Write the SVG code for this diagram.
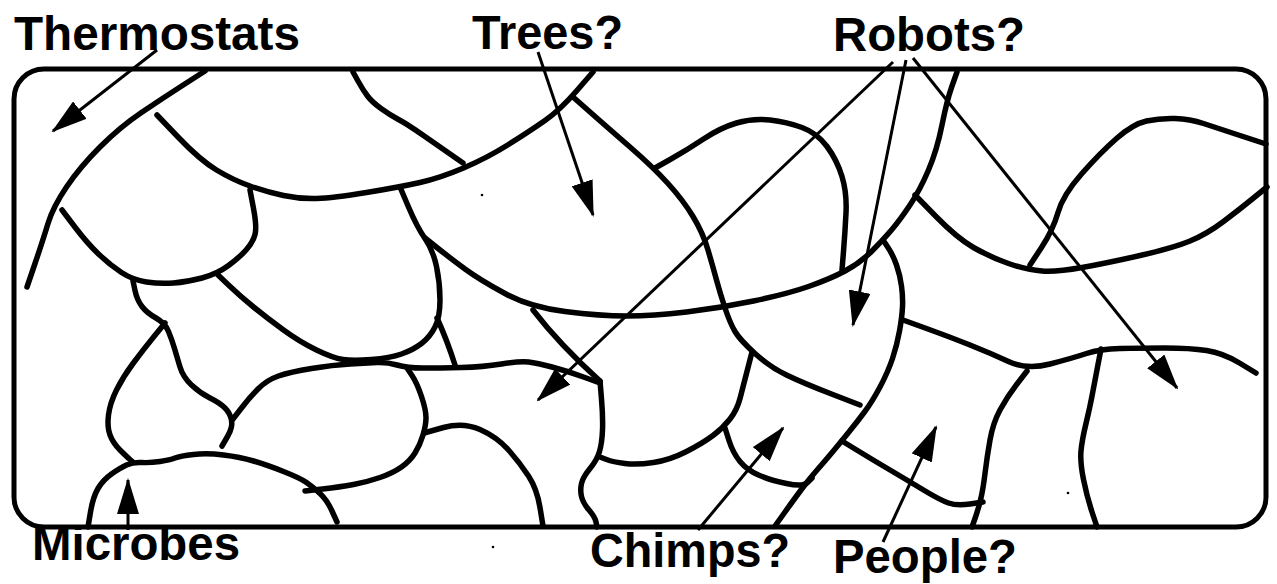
<svg xmlns="http://www.w3.org/2000/svg" width="1277" height="584" viewBox="0 0 1277 584">
<style>
.frame{fill:none;stroke:#000;stroke-width:5}
.reg path{fill:none;stroke:#000;stroke-width:5.5;stroke-linecap:round;stroke-linejoin:round}
.arr line{stroke:#000;stroke-width:3;marker-end:url(#ah)}
.lbl{font-family:"Liberation Sans",Arial,Helvetica,sans-serif;font-weight:bold;font-size:48px;fill:#000}
</style>
<defs>
<marker id="ah" markerUnits="userSpaceOnUse" viewBox="0 0 36 22" markerWidth="36" markerHeight="22" refX="34" refY="11" orient="auto">
<path d="M0,0 L36,11 L0,22 Z" fill="#000"/>
</marker>
</defs>
<rect width="1277" height="584" fill="#fff"/>
<rect id="frame" class="frame" x="14" y="69" width="1252" height="458" rx="30" ry="30"/>
<g id="regions" class="reg">
<path d="M205,71 L184,84.5 Q163,98 141.5,112.5 Q120,127 100,147 Q80,167 66.5,187 Q53,207 48,223.5 Q43,240 35,263.5 L27,287"/>
<path d="M157,115 L178.5,137.5 Q200,160 216.5,170 Q233,180 250,186 Q267,192 283.5,195.5 Q300,199 316.5,198.5 Q333,198 366.5,192.5 Q400,187 420,182.5 Q440,178 463.5,168 Q487,158 508.5,144.5 Q530,131 545,120.5 Q560,110 576.5,91 L593,72"/>
<path d="M353,72 L358,81 Q363,90 367.5,96 Q372,102 381,108.5 Q390,115 398.5,119.5 Q407,124 423.5,135.5 Q440,147 451.5,155 L463,163"/>
<path d="M250,190 L253.5,208.5 Q257,227 255,234.5 Q253,242 246.5,249.5 Q240,257 228.5,265.5 Q217,274 202,278 Q187,282 173.5,283 Q160,284 146.5,282 Q133,280 121.5,272.5 Q110,265 98.5,254 Q87,243 74.5,226.5 L62,210"/>
<path d="M400,187 L408.5,207 Q417,227 425,238.5 Q433,250 436.5,266.5 Q440,283 440,300 Q440,317 435,327 Q430,337 421.5,343.5 Q413,350 401.5,354 Q390,358 371.5,359.5 Q353,361 343,359.5 Q333,358 316.5,350 Q300,342 283.5,330 Q267,318 253.5,307 Q240,296 228.5,285 L217,274"/>
<path d="M425,238 L437.5,248 Q450,258 465,269 Q480,280 505,293.5 Q530,307 565,311.5 Q600,316 626.5,316 Q653,316 686.5,312 Q720,308 753.5,301 Q787,294 808.5,286.5 Q830,279 845,271 Q860,263 871.5,251.5 Q883,240 891.5,230 Q900,220 910,205 Q920,190 928.5,170 Q937,150 942,125 Q947,100 952,86 L957,72"/>
<path d="M883,240 L888,247.5 Q893,255 896.5,265 Q900,275 901.5,286 Q903,297 902.5,307 Q902,317 899.5,331 Q897,345 892.5,358.5 Q888,372 880,387 Q872,402 864.5,412 Q857,422 848.5,432.5 Q840,443 832.5,452 Q825,461 817.5,469.5 Q810,478 802.5,488 Q795,498 785,512 L775,526"/>
<path d="M915,195 L936,216.5 Q957,238 973.5,247.5 Q990,257 1008.5,263.5 Q1027,270 1042,271 Q1057,272 1082,267.5 Q1107,263 1140,255.5 Q1173,248 1190,241 Q1207,234 1223.5,221.5 Q1240,209 1253.5,198 L1267,187"/>
<path d="M1030,265 L1041.5,247.5 Q1053,230 1058,212.5 Q1063,195 1081.5,174 Q1100,153 1116.5,138.5 Q1133,124 1146.5,121 Q1160,118 1175,118.5 Q1190,119 1203.5,123.5 Q1217,128 1241.5,136 L1266,144"/>
<path d="M655,168 L671,159 Q687,150 703.5,139 Q720,128 736.5,123 Q753,118 770,120 Q787,122 802,127.5 Q817,133 827,146.5 Q837,160 842,176.5 Q847,193 846,213 Q845,233 843.5,251.5 L842,270"/>
<path d="M573,97 L590,112 Q607,127 630,147 Q653,167 668,183.5 Q683,200 693,216.5 Q703,233 708,250 Q713,267 716.5,280 Q720,293 725,308 Q730,323 735,331.5 Q740,340 755,353.5 Q770,367 786.5,375 Q803,383 831.5,394 L860,405"/>
<path d="M903,320 L926.5,328.5 Q950,337 970,345 Q990,353 1008.5,361.5 Q1027,370 1050,364 Q1073,358 1086.5,353.5 Q1100,349 1120,348.5 Q1140,348 1165,348 Q1190,348 1206.5,350.5 Q1223,353 1239.5,363 L1256,373"/>
<path d="M1027,371 L1017,384 Q1007,397 1000,410 Q993,423 990,440 Q987,457 985,473.5 Q983,490 980.5,500 Q978,510 975,518.5 L972,527"/>
<path d="M1101,349 L1098,364.5 Q1095,380 1092.5,393.5 Q1090,407 1086,423.5 Q1082,440 1081,451 Q1080,462 1083.5,479.5 Q1087,497 1092,512 L1097,527"/>
<path d="M842,441 L857.5,450.5 Q873,460 890,470 Q907,480 923.5,490 Q940,500 948.5,503 Q957,506 970,504 L983,502"/>
<path d="M752,352 L747.5,369.5 Q743,387 740,398.5 Q737,410 730,419 Q723,428 713,435.5 Q703,443 686.5,451.5 Q670,460 653.5,462.5 Q637,465 625,463.5 Q613,462 606.5,459.5 L600,457"/>
<path d="M725,428 L729,440.5 Q733,453 740,461.5 Q747,470 758.5,475 Q770,480 786.5,483.5 Q803,487 807.5,482.5 L812,478"/>
<path d="M600,381 L601.5,399 Q603,417 602.5,430 Q602,443 599.5,451.5 Q597,460 590,468.5 Q583,477 581.5,483.5 Q580,490 581.5,496.5 Q583,503 589,510 Q595,517 596,522 L597,527"/>
<path d="M533,310 Q560,345 600,381"/>
<path d="M233,419 L241.5,408 Q250,397 258.5,388.5 Q267,380 278.5,376 Q290,372 311.5,368.5 Q333,365 350,364 Q367,363 377,362.5 Q387,362 397,365 Q407,368 423.5,368 Q440,368 461.5,367.5 Q483,367 501.5,364 Q520,361 528.5,362 Q537,363 552,367 Q567,371 583.5,377 L600,383"/>
<path d="M133,281 L135,290.5 Q137,300 142,306.5 Q147,313 156,318 Q165,323 168.5,331.5 Q172,340 174.5,348.5 Q177,357 180,367 Q183,377 191.5,385 Q200,393 210,398 Q220,403 225,408 Q230,413 231.5,420 Q233,427 227.5,436.5 L222,446"/>
<path d="M165,323 L154,336.5 Q143,350 133,363.5 Q123,377 116.5,390 Q110,403 108.5,415 Q107,427 110,435 Q113,443 120,450 Q127,457 130,459.5 L133,462"/>
<path d="M88,527 L90.5,512 Q93,497 98,488.5 Q103,480 111.5,474 Q120,468 126.5,465 Q133,462 141.5,462.5 Q150,463 160,461.5 Q170,460 175,458 Q180,456 193.5,454.5 Q207,453 223.5,455 Q240,457 253.5,461 Q267,465 283.5,471.5 Q300,478 306.5,482.5 Q313,487 320,493.5 Q327,500 332,511 L337,522"/>
<path d="M407,368 L412,375.5 Q417,383 421.5,396.5 Q426,410 426,417.5 Q426,425 423,435 Q420,445 415,453 Q410,461 401.5,467 Q393,473 380,477.5 Q367,482 353.5,484.5 Q340,487 322.5,489 L305,491"/>
<path d="M424,433 L443.5,427.5 Q463,422 480,429.5 Q497,437 508.5,450 Q520,463 528.5,476 Q537,489 540,507.5 L543,526"/>
<path d="M437,318 Q447,340 455,365"/>
</g>
<g id="connectors" class="arr">
<line x1="157" y1="50" x2="53" y2="131"/>
<line x1="538" y1="52" x2="593" y2="215"/>
<line x1="893" y1="62" x2="538" y2="400"/>
<line x1="906" y1="60" x2="853" y2="325"/>
<line x1="913" y1="58" x2="1177" y2="388"/>
<line x1="128" y1="530" x2="128" y2="480"/>
<line x1="698" y1="530" x2="783" y2="428"/>
<line x1="883" y1="542" x2="936" y2="427"/>
</g>
<g id="label-thermostats"><text class="lbl" x="14" y="50" textLength="286" lengthAdjust="spacingAndGlyphs">Thermostats</text></g>
<g id="label-trees"><text class="lbl" x="472" y="49" textLength="151" lengthAdjust="spacingAndGlyphs">Trees?</text></g>
<g id="label-robots"><text class="lbl" x="833" y="51" textLength="192" lengthAdjust="spacingAndGlyphs">Robots?</text></g>
<g id="label-microbes"><text class="lbl" x="32" y="560" textLength="208" lengthAdjust="spacingAndGlyphs">Microbes</text></g>
<g id="label-chimps"><text class="lbl" x="590" y="567" textLength="200" lengthAdjust="spacingAndGlyphs">Chimps?</text></g>
<g id="label-people"><text class="lbl" x="833" y="573" textLength="184" lengthAdjust="spacingAndGlyphs">People?</text></g>
<g id="specks" fill="#000">
<circle cx="482" cy="195" r="1.3"/>
<circle cx="493" cy="547" r="1.3"/>
<circle cx="1068" cy="493" r="1.3"/>
</g>
</svg>
